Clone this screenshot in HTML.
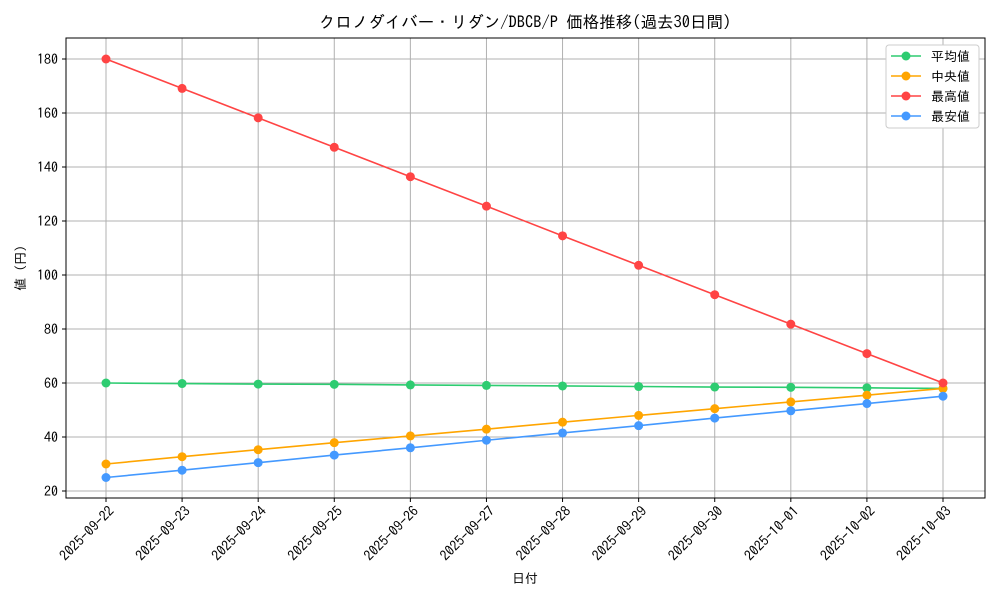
<!DOCTYPE html>
<html><head><meta charset="utf-8"><style>
body{margin:0;background:#fff}
svg{font-family:"IPAGothic","Liberation Sans",sans-serif}
</style></head><body>
<svg id="chart" width="1000" height="600">
<text x="525" y="28" font-size="16.5" text-anchor="middle">クロノダイバー・リダン/DBCB/P 価格推移(過去30日間)</text>
<g id="grid"></g><g id="axes"></g><g id="series"></g>
<text x="525" y="583" font-size="13" text-anchor="middle">日付</text>
<text transform="translate(25,268) rotate(-90)" font-size="13" text-anchor="middle">値 (円)</text>
<g id="legend"></g>
</svg>
<script>
const categories=["2025-09-22","2025-09-23","2025-09-24","2025-09-25","2025-09-26","2025-09-27","2025-09-28","2025-09-29","2025-09-30","2025-10-01","2025-10-02","2025-10-03"];
const avgValues=[60,59.8,59.6,59.5,59.3,59.1,58.9,58.7,58.5,58.4,58.2,58.0];
const medianValues=[30,32.7,35.3,37.9,40.4,42.9,45.5,48,50.5,53,55.5,58];
const maxValues=[180,169.1,158.2,147.3,136.4,125.5,114.5,103.6,92.7,81.8,70.9,60];
const minValues=[25,27.7,30.5,33.3,36,38.8,41.5,44.2,47,49.7,52.4,55.1];
const yTicks=[20,40,60,80,100,120,140,160,180];
const seriesNames=["平均値","中央値","最高値","最安値"];
const NS="http://www.w3.org/2000/svg";
const L=66,R=985,T=38,B=498;
const x=i=>106+i*(943-106)/(categories.length-1);
const y=v=>491-(v-20)*(432/160);
function mk(tag,attrs,parent){const e=document.createElementNS(NS,tag);for(const k in attrs)e.setAttribute(k,attrs[k]);parent.appendChild(e);return e;}
const grid=document.getElementById('grid'),axes=document.getElementById('axes'),ser=document.getElementById('series'),leg=document.getElementById('legend');
categories.forEach((c,i)=>{
 const g=mk('line',{x1:x(i),x2:x(i),y1:T,y2:B,stroke:'#b0b0b0','stroke-width':1},grid);
 
 
 mk('line',{x1:x(i),x2:x(i),y1:B,y2:B+4,stroke:'#000'},axes);
 const t=mk('text',{x:x(i)+9,y:B+14,'font-size':14,'text-anchor':'end',transform:`rotate(-45 ${x(i)+9} ${B+14})`},axes);
 t.textContent=c;
 
 
});
yTicks.forEach(v=>{
 const g=mk('line',{x1:L,x2:R,y1:y(v),y2:y(v),stroke:'#b0b0b0','stroke-width':1},grid);
 
 
 mk('line',{x1:L-4,x2:L,y1:y(v),y2:y(v),stroke:'#000'},axes);
 const t=mk('text',{x:L-8,y:y(v)+5,'font-size':14,'text-anchor':'end'},axes);
 t.textContent=v;
 
 
});
const fr=mk('rect',{x:L,y:T,width:R-L,height:B-T,fill:'none',stroke:'#000','stroke-width':1},axes);


const all=[[avgValues,'#2ecc71'],[medianValues,'#ffa500'],[maxValues,'#ff4444'],[minValues,'#4499ff']];
all.forEach(([vals,col],si)=>{
 const g=mk('g',{},ser);
 
 
 mk('polyline',{points:vals.map((v,i)=>x(i)+','+y(v)).join(' '),fill:'none',stroke:col,'stroke-width':1.6},g);
 vals.forEach((v,i)=>{const c=mk('circle',{cx:x(i),cy:y(v),r:4.5,fill:col},g);
  
  });
});
const lb=mk('rect',{x:886,y:45,width:93,height:83,rx:3,fill:'#fff',stroke:'#ccc'},leg);


all.forEach(([v,col],i)=>{
 const yy=56+i*20;
 const g=mk('g',{},leg);
 
 
 mk('line',{x1:891,x2:921,y1:yy,y2:yy,stroke:col,'stroke-width':1.6},g);
 mk('circle',{cx:906,cy:yy,r:4.5,fill:col},g);
 const t=mk('text',{x:931,y:yy+5,'font-size':13},g);
 t.textContent=seriesNames[i];
});
</script>
</body></html>
